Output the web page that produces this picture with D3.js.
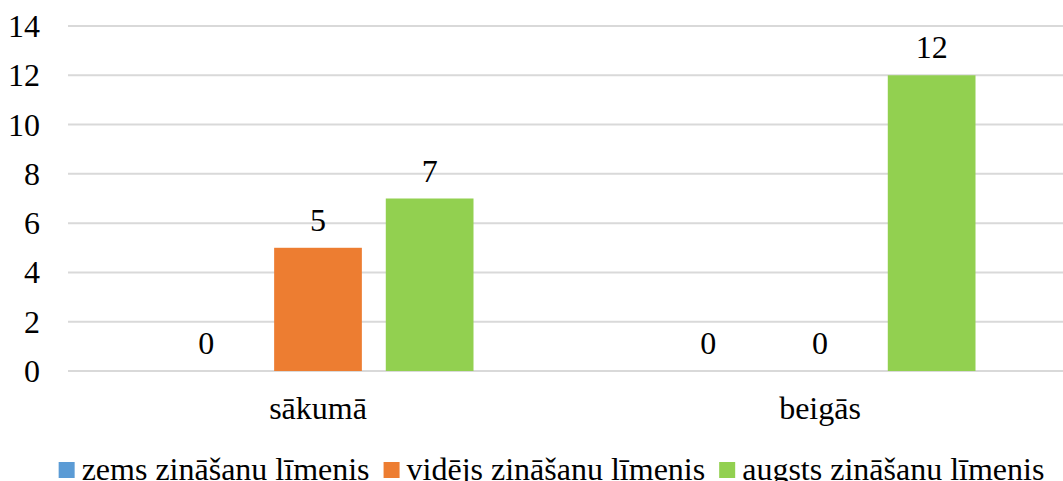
<html>
<head>
    <script src="https://d3js.org/d3.v7.min.js"></script>
    <style type="text/css">
        body { margin: 0; background: #fff; }
        svg { display: block; }
        .grid line { stroke: #d9d9d9; stroke-width: 2px; }
    </style>
</head>
<body>
    <script type="text/javascript">
        var categories = ["sākumā", "beigās"];
        var seriesNames = ["zems zināšanu līmenis", "vidējs zināšanu līmenis", "augsts zināšanu līmenis"];
        var seriesColors = ["#5b9bd5", "#ed7d31", "#92d050"];
        var zems = [0, 0];
        var videjs = [5, 0];
        var augsts = [7, 12];
        var yTicks = [0, 2, 4, 6, 8, 10, 12, 14];

        var width = 1063, height = 481;
        var plot = {left: 67, right: 1071, top: 26, bottom: 371};
        var seriesValues = [zems, videjs, augsts];
        var font = "Tinos, 'Liberation Serif', 'Times New Roman', 'DejaVu Serif', serif";

        var svg = d3.select("body").append("svg")
            .attr("width", width)
            .attr("height", height)
            .style("font-family", font)
            .style("font-size", "32px");

        var y = d3.scaleLinear().domain([0, 14]).range([plot.bottom, plot.top]);
        var x0 = d3.scaleBand().domain(categories).range([plot.left, plot.right]).padding(0);
        var x1 = d3.scaleBand().domain(d3.range(seriesNames.length))
            .range([95.5, x0.bandwidth() - 95.5]).paddingInner(24 / 112).paddingOuter(0);

        // gridlines
        svg.append("g").attr("class", "grid")
            .selectAll("line")
            .data(yTicks)
            .enter()
            .append("line")
            .attr("x1", plot.left + 1)
            .attr("x2", plot.right)
            .attr("y1", function (d) { return y(d); })
            .attr("y2", function (d) { return y(d); });

        // y axis labels
        var yAxis = d3.axisLeft(y).tickValues(yTicks).tickSize(0).tickPadding(0);
        var yg = svg.append("g").attr("transform", "translate(40,0)").call(yAxis)
            .attr("font-family", null).attr("font-size", null);
        yg.select(".domain").remove();
        yg.selectAll("text")
            .attr("fill", "#000")
            .attr("x", 0).attr("dy", "0.33em");

        // bars
        var groups = svg.selectAll(".cat")
            .data(categories)
            .enter()
            .append("g")
            .attr("class", "cat")
            .attr("transform", function (d) { return "translate(" + x0(d) + ",0)"; });

        var cells = groups.selectAll(".bar")
            .data(function (d, ci) {
                return seriesValues.map(function (vals, si) { return {s: si, v: vals[ci]}; });
            })
            .enter();

        cells.append("rect")
            .attr("x", function (d) { return x1(d.s); })
            .attr("width", x1.bandwidth())
            .attr("y", function (d) { return y(d.v); })
            .attr("height", function (d) { return y(0) - y(d.v); })
            .attr("fill", function (d) { return seriesColors[d.s]; });

        cells.append("text")
            .attr("x", function (d) { return x1(d.s) + x1.bandwidth() / 2; })
            .attr("y", function (d) { return y(d.v) - 17; })
            .attr("text-anchor", "middle")
            .text(function (d) { return d.v; });

        // category labels
        svg.selectAll(".catlabel")
            .data(categories)
            .enter()
            .append("text")
            .attr("x", function (d) { return x0(d) + x0.bandwidth() / 2; })
            .attr("y", plot.bottom + 48)
            .attr("text-anchor", "middle")
            .text(function (d) { return d; });

        // legend
        var legend = svg.append("g");
        var items = legend.selectAll("g")
            .data(seriesNames)
            .enter()
            .append("g");
        items.append("rect")
            .attr("width", 16).attr("height", 16)
            .attr("y", 462)
            .attr("fill", function (d, i) { return seriesColors[i]; });
        items.append("text")
            .attr("x", 23)
            .attr("y", 480)
            .text(function (d) { return d; });
        var xpos = 0;
        items.each(function () {
            var w = d3.select(this).select("text").node().getComputedTextLength();
            d3.select(this).attr("transform", "translate(" + xpos + ",0)");
            xpos += 23 + w + 14;
        });
        var total = xpos - 14;
        legend.attr("transform", "translate(" + (551.5 - total / 2) + ",0)");
    </script>
</body>
</html>
